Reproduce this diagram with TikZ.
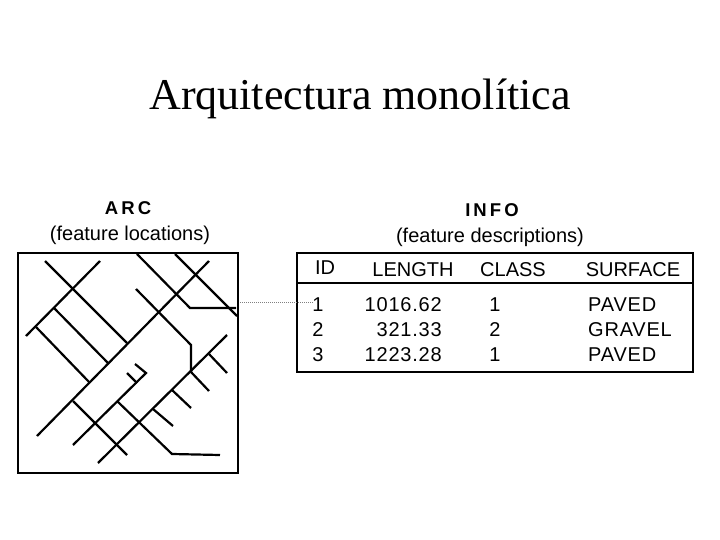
\documentclass[tikz,border=0pt]{standalone}
\usepackage{fontspec}
\setmainfont{Liberation Sans}
\newfontfamily\titlefont{Liberation Serif}
\newfontfamily\rowfont[LetterSpace=4]{Liberation Sans}
\tikzset{
  road/.style={line width=2.2pt,line join=miter},
  frame/.style={line width=2pt},
  celltext/.style={inner sep=0pt,font=\rowfont\fontsize{20}{22}\selectfont},
  coltext/.style={inner sep=0pt,font=\fontsize{20}{22}\selectfont},
  captext/.style={inner sep=0pt,font=\fontsize{20}{22}\selectfont},
  headtext/.style={inner sep=0pt,font=\fontsize{18.5}{22}\selectfont\bfseries}
}
\begin{document}
\begin{tikzpicture}[x=1pt,y=-1pt]
  \useasboundingbox (0,0) rectangle (720,540);
  \node [inner sep=0pt,font=\titlefont\fontsize{44}{48}\selectfont] (title) at (360,99) {Arquitectura monol\'{\i}tica};
  % map side
  \node [headtext] (archead) at (128,208) {A\,R\,C};
  \node [captext] (arccap) at (130,235) {(feature locations)};
  \draw [frame] (18,253) rectangle (238,473);
  \foreach \pts in {
    {(45,261) -- (127,343)},
    {(100,261) -- (26,336)},
    {(54,308) -- (108,363)},
    {(36,327) -- (90,383)},
    {(209,261) -- (37,436)},
    {(137,254) -- (190,308) -- (236,308)},
    {(175,254) -- (237,316)},
    {(136,289) -- (191,345) -- (191,372)},
    {(227,335) -- (98,463)},
    {(209,354) -- (227,373)},
    {(191,372) -- (209,391)},
    {(172,390) -- (191,408)},
    {(153,409) -- (173,426)},
    {(73,401) -- (127,455)},
    {(73,445) -- (146,373) -- (135,364)},
    {(127,373) -- (137,383)},
    {(117,401) -- (172,454) -- (220,455)}
  }{
    \draw [road] \pts;
  }
  % table side
  \node [headtext] (infohead) at (492,210) {I\,N\,F\,O};
  \node [captext] (infocap) at (490,237) {(feature descriptions)};
  \draw [frame] (297,253) rectangle (693,372);
  \draw [frame] (297,283) -- (693,283);
  \node [coltext] (idhead) at (325,268) {ID};
  \node [coltext] (lengthhead) at (413,270) {LENGTH};
  \node [coltext] (classhead) at (513,270) {CLASS};
  \node [coltext] (surfacehead) at (633,270) {SURFACE};
  \foreach \r/\y/\len/\cl/\surf in {1/305/1016.62/1/PAVED,2/330/321.33/2/GRAVEL,3/355/1223.28/1/PAVED}{
    \node [celltext] (id\r) at (318,\y) {\r};
    \node [celltext,anchor=east] (len\r) at (442,\y) {\len};
    \node [celltext] (class\r) at (495,\y) {\cl};
    \node [celltext,anchor=west] (surf\r) at (588,\y) {\surf};
  }
  \coordinate (arcend) at (240,302);
  \draw [densely dotted,line width=1pt,gray] (arcend) -- (arcend -| id1.west);
\end{tikzpicture}
\end{document}
